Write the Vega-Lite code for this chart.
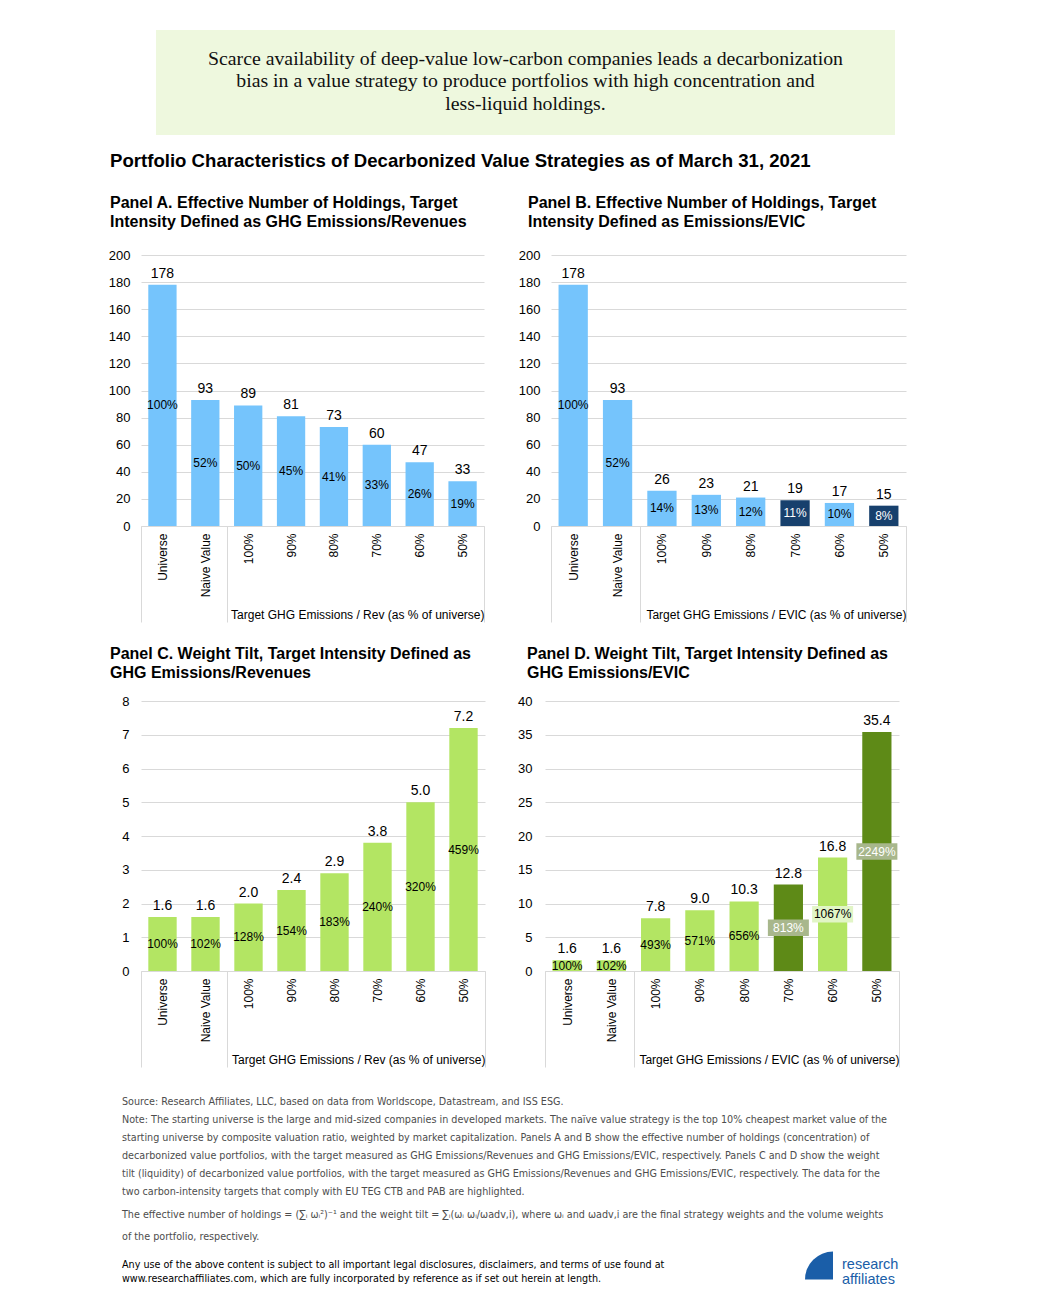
{
  "$schema": "https://vega.github.io/schema/vega-lite/v6.json",
  "background": "white",
  "padding": {"left": 108, "top": 30, "right": 5, "bottom": 5},
  "config": {
    "view": {"stroke": null},
    "font": "Liberation Sans",
    "title": {"anchor": "start", "color": "#000000", "fontWeight": "bold", "font": "Liberation Sans"},
    "axis": {"labelFont": "Liberation Sans", "titleFont": "Liberation Sans", "labelColor": "#000000", "titleColor": "#000000"}
  },
  "spacing": 17,
  "vconcat": [
    {
      "spacing": 14,
      "hconcat": [
        {"width": 1, "height": 105, "data": {"values": []}, "mark": "point"},
        {
          "width": 739, "height": 105,
          "view": {"fill": "#eef8de", "stroke": null},
          "data": {"values": [{"t": "Scarce availability of deep-value low-carbon companies leads a decarbonization\nbias in a value strategy to produce portfolios with high concentration and\nless-liquid holdings."}]},
          "mark": {"type": "text", "lineBreak": "\n", "font": "Liberation Serif", "fontSize": 19.8, "lineHeight": 22.5, "color": "#111111", "align": "center", "baseline": "middle", "dy": -24},
          "encoding": {"text": {"field": "t", "type": "nominal"}}
        }
      ]
    },
    {
      "spacing": 28,
      "vconcat": [
        {
          "title": {"text": "Portfolio Characteristics of Decarbonized Value Strategies as of March 31, 2021", "fontSize": 18.6, "frame": "bounds", "dx": 2, "offset": 24},
          "spacing": 23,
          "vconcat": [
            {
              "spacing": 33,
              "hconcat": [
                {
                  "width": 343, "height": 271,
                  "title": {"text": ["Panel A. Effective Number of Holdings, Target", "Intensity Defined as GHG Emissions/Revenues"], "fontSize": 16, "lineHeight": 19, "frame": "group", "dx": -31, "offset": 19},
                  "data": {"values": [
                    {"cat": "Universe", "value": 178, "pct": 1.00, "hl": false},
                    {"cat": "Naive Value", "value": 93, "pct": 0.52, "hl": false},
                    {"cat": "100%", "value": 89, "pct": 0.50, "hl": false},
                    {"cat": "90%", "value": 81, "pct": 0.45, "hl": false},
                    {"cat": "80%", "value": 73, "pct": 0.41, "hl": false},
                    {"cat": "70%", "value": 60, "pct": 0.33, "hl": false},
                    {"cat": "60%", "value": 47, "pct": 0.26, "hl": false},
                    {"cat": "50%", "value": 33, "pct": 0.19, "hl": false}
                  ]},
                  "encoding": {
                    "x": {"field": "cat", "type": "nominal", "sort": null, "scale": {"paddingInner": 0, "paddingOuter": 0},
                      "axis": {"title": "Target GHG Emissions / Rev (as % of universe)", "labelAngle": 270, "labelFontSize": 12, "labelPadding": -89, "labelColor": "#000000", "domainColor": "#d9d9d9", "tickBand": "extent", "tickSize": 96, "tickColor": {"condition": {"test": "!datum.value || datum.value === 'Naive Value' || datum.value === '50%'", "value": "#d9d9d9"}, "value": "rgba(0,0,0,0)"}, "titleFontSize": 12, "titleFontWeight": "normal", "titleAnchor": "end", "titleAlign": "right", "titleBaseline": "alphabetic", "titleY": 92}}
                  },
                  "layer": [
                    {"mark": {"type": "bar", "width": {"band": 0.66}},
                     "encoding": {
                       "y": {"field": "value", "type": "quantitative", "scale": {"domain": [0, 200], "nice": false},
                         "axis": {"values": [0, 20, 40, 60, 80, 100, 120, 140, 160, 180, 200], "title": null, "domain": false, "ticks": false, "labelPadding": 11, "labelFontSize": 13, "gridColor": "#d9d9d9", "minExtent": 33, "labelOverlap": false}},
                       "color": {"condition": {"test": "datum.hl", "value": "#17406d"}, "value": "#75c4fc"}}},
                    {"mark": {"type": "text", "baseline": "bottom", "dy": -4, "fontSize": 14, "color": "#000000"},
                     "encoding": {"y": {"field": "value", "type": "quantitative",
                         "axis": {"values": [0, 20, 40, 60, 80, 100, 120, 140, 160, 180, 200], "title": null, "domain": false, "ticks": false, "labelPadding": 11, "labelFontSize": 13, "gridColor": "#d9d9d9", "minExtent": 33, "labelOverlap": false}},
                       "text": {"field": "value", "type": "quantitative", "format": ".0f"}}},
                    {"mark": {"type": "text", "baseline": "middle", "fontSize": 12},
                     "encoding": {"y": {"field": "value", "type": "quantitative", "stack": "zero", "bandPosition": 0.5,
                         "axis": {"values": [0, 20, 40, 60, 80, 100, 120, 140, 160, 180, 200], "title": null, "domain": false, "ticks": false, "labelPadding": 11, "labelFontSize": 13, "gridColor": "#d9d9d9", "minExtent": 33, "labelOverlap": false}},
                       "text": {"field": "pct", "type": "quantitative", "format": ".0%"},
                       "color": {"condition": {"test": "datum.hl", "value": "#ffffff"}, "value": "#000000"}}}
                  ]
                },
                {
                  "width": 355, "height": 271,
                  "title": {"text": ["Panel B. Effective Number of Holdings, Target", "Intensity Defined as Emissions/EVIC"], "fontSize": 16, "lineHeight": 19, "frame": "group", "dx": -23, "offset": 19},
                  "data": {"values": [
                    {"cat": "Universe", "value": 178, "pct": 1.00, "hl": false},
                    {"cat": "Naive Value", "value": 93, "pct": 0.52, "hl": false},
                    {"cat": "100%", "value": 26, "pct": 0.14, "hl": false},
                    {"cat": "90%", "value": 23, "pct": 0.13, "hl": false},
                    {"cat": "80%", "value": 21, "pct": 0.12, "hl": false},
                    {"cat": "70%", "value": 19, "pct": 0.11, "hl": true},
                    {"cat": "60%", "value": 17, "pct": 0.10, "hl": false},
                    {"cat": "50%", "value": 15, "pct": 0.08, "hl": true}
                  ]},
                  "encoding": {
                    "x": {"field": "cat", "type": "nominal", "sort": null, "scale": {"paddingInner": 0, "paddingOuter": 0},
                      "axis": {"title": "Target GHG Emissions / EVIC (as % of universe)", "labelAngle": 270, "labelFontSize": 12, "labelPadding": -89, "labelColor": "#000000", "domainColor": "#d9d9d9", "tickBand": "extent", "tickSize": 96, "tickColor": {"condition": {"test": "!datum.value || datum.value === 'Naive Value' || datum.value === '50%'", "value": "#d9d9d9"}, "value": "rgba(0,0,0,0)"}, "titleFontSize": 12, "titleFontWeight": "normal", "titleAnchor": "end", "titleAlign": "right", "titleBaseline": "alphabetic", "titleY": 92}}
                  },
                  "layer": [
                    {"mark": {"type": "bar", "width": {"band": 0.66}},
                     "encoding": {
                       "y": {"field": "value", "type": "quantitative", "scale": {"domain": [0, 200], "nice": false},
                         "axis": {"values": [0, 20, 40, 60, 80, 100, 120, 140, 160, 180, 200], "title": null, "domain": false, "ticks": false, "labelPadding": 11, "labelFontSize": 13, "gridColor": "#d9d9d9", "minExtent": 33, "labelOverlap": false}},
                       "color": {"condition": {"test": "datum.hl", "value": "#17406d"}, "value": "#75c4fc"}}},
                    {"mark": {"type": "text", "baseline": "bottom", "dy": -4, "fontSize": 14, "color": "#000000"},
                     "encoding": {"y": {"field": "value", "type": "quantitative",
                         "axis": {"values": [0, 20, 40, 60, 80, 100, 120, 140, 160, 180, 200], "title": null, "domain": false, "ticks": false, "labelPadding": 11, "labelFontSize": 13, "gridColor": "#d9d9d9", "minExtent": 33, "labelOverlap": false}},
                       "text": {"field": "value", "type": "quantitative", "format": ".0f"}}},
                    {"mark": {"type": "text", "baseline": "middle", "fontSize": 12},
                     "encoding": {"y": {"field": "value", "type": "quantitative", "stack": "zero", "bandPosition": 0.5,
                         "axis": {"values": [0, 20, 40, 60, 80, 100, 120, 140, 160, 180, 200], "title": null, "domain": false, "ticks": false, "labelPadding": 11, "labelFontSize": 13, "gridColor": "#d9d9d9", "minExtent": 33, "labelOverlap": false}},
                       "text": {"field": "pct", "type": "quantitative", "format": ".0%"},
                       "color": {"condition": {"test": "datum.hl", "value": "#ffffff"}, "value": "#000000"}}}
                  ]
                }
              ]
            },
            {
              "spacing": 31,
              "hconcat": [
                {
                  "width": 344, "height": 270,
                  "title": {"text": ["Panel C. Weight Tilt, Target Intensity Defined as", "GHG Emissions/Revenues"], "fontSize": 16, "lineHeight": 19, "frame": "group", "dx": -31, "offset": 14},
                  "data": {"values": [
                    {"cat": "Universe", "value": 1.6, "pct": 1.00, "hl": false},
                    {"cat": "Naive Value", "value": 1.6, "pct": 1.02, "hl": false},
                    {"cat": "100%", "value": 2.0, "pct": 1.28, "hl": false},
                    {"cat": "90%", "value": 2.4, "pct": 1.54, "hl": false},
                    {"cat": "80%", "value": 2.9, "pct": 1.83, "hl": false},
                    {"cat": "70%", "value": 3.8, "pct": 2.40, "hl": false},
                    {"cat": "60%", "value": 5.0, "pct": 3.20, "hl": false},
                    {"cat": "50%", "value": 7.2, "pct": 4.59, "hl": false}
                  ]},
                  "encoding": {
                    "x": {"field": "cat", "type": "nominal", "sort": null, "scale": {"paddingInner": 0, "paddingOuter": 0},
                      "axis": {"title": "Target GHG Emissions / Rev (as % of universe)", "labelAngle": 270, "labelFontSize": 12, "labelPadding": -89, "labelColor": "#000000", "domainColor": "#d9d9d9", "tickBand": "extent", "tickSize": 96, "tickColor": {"condition": {"test": "!datum.value || datum.value === 'Naive Value' || datum.value === '50%'", "value": "#d9d9d9"}, "value": "rgba(0,0,0,0)"}, "titleFontSize": 12, "titleFontWeight": "normal", "titleAnchor": "end", "titleAlign": "right", "titleBaseline": "alphabetic", "titleY": 92}}
                  },
                  "layer": [
                    {"mark": {"type": "bar", "width": {"band": 0.66}},
                     "encoding": {
                       "y": {"field": "value", "type": "quantitative", "scale": {"domain": [0, 8], "nice": false},
                         "axis": {"values": [0, 1, 2, 3, 4, 5, 6, 7, 8], "title": null, "domain": false, "ticks": false, "labelPadding": 12, "labelFontSize": 13, "gridColor": "#d9d9d9", "minExtent": 33, "labelOverlap": false}},
                       "color": {"condition": {"test": "datum.hl", "value": "#5e8a17"}, "value": "#b3e563"}}},
                    {"mark": {"type": "text", "baseline": "bottom", "dy": -4, "fontSize": 14, "color": "#000000"},
                     "encoding": {"y": {"field": "value", "type": "quantitative",
                         "axis": {"values": [0, 1, 2, 3, 4, 5, 6, 7, 8], "title": null, "domain": false, "ticks": false, "labelPadding": 12, "labelFontSize": 13, "gridColor": "#d9d9d9", "minExtent": 33, "labelOverlap": false}},
                       "text": {"field": "value", "type": "quantitative", "format": ".1f"}}},
                    {"mark": {"type": "text", "baseline": "middle", "fontSize": 12},
                     "encoding": {"y": {"field": "value", "type": "quantitative", "stack": "zero", "bandPosition": 0.5,
                         "axis": {"values": [0, 1, 2, 3, 4, 5, 6, 7, 8], "title": null, "domain": false, "ticks": false, "labelPadding": 12, "labelFontSize": 13, "gridColor": "#d9d9d9", "minExtent": 33, "labelOverlap": false}},
                       "text": {"field": "pct", "type": "quantitative", "format": ".0%"},
                       "color": {"condition": {"test": "datum.hl", "value": "#ffffff"}, "value": "#000000"}}}
                  ]
                },
                {
                  "width": 354, "height": 270,
                  "title": {"text": ["Panel D. Weight Tilt, Target Intensity Defined as", "GHG Emissions/EVIC"], "fontSize": 16, "lineHeight": 19, "frame": "group", "dx": -18, "offset": 14},
                  "data": {"values": [
                    {"cat": "Universe", "value": 1.6, "pct": 1.00, "hl": false},
                    {"cat": "Naive Value", "value": 1.6, "pct": 1.02, "hl": false},
                    {"cat": "100%", "value": 7.8, "pct": 4.93, "hl": false},
                    {"cat": "90%", "value": 9.0, "pct": 5.71, "hl": false},
                    {"cat": "80%", "value": 10.3, "pct": 6.56, "hl": false},
                    {"cat": "70%", "value": 12.8, "pct": 8.13, "hl": true},
                    {"cat": "60%", "value": 16.8, "pct": 10.67, "hl": false},
                    {"cat": "50%", "value": 35.4, "pct": 22.49, "hl": true}
                  ]},
                  "encoding": {
                    "x": {"field": "cat", "type": "nominal", "sort": null, "scale": {"paddingInner": 0, "paddingOuter": 0},
                      "axis": {"title": "Target GHG Emissions / EVIC (as % of universe)", "labelAngle": 270, "labelFontSize": 12, "labelPadding": -89, "labelColor": "#000000", "domainColor": "#d9d9d9", "tickBand": "extent", "tickSize": 96, "tickColor": {"condition": {"test": "!datum.value || datum.value === 'Naive Value' || datum.value === '50%'", "value": "#d9d9d9"}, "value": "rgba(0,0,0,0)"}, "titleFontSize": 12, "titleFontWeight": "normal", "titleAnchor": "end", "titleAlign": "right", "titleBaseline": "alphabetic", "titleY": 92}}
                  },
                  "layer": [
                    {"mark": {"type": "bar", "width": {"band": 0.66}},
                     "encoding": {
                       "y": {"field": "value", "type": "quantitative", "scale": {"domain": [0, 40], "nice": false},
                         "axis": {"values": [0, 5, 10, 15, 20, 25, 30, 35, 40], "title": null, "domain": false, "ticks": false, "labelPadding": 13, "labelFontSize": 13, "gridColor": "#d9d9d9", "minExtent": 20, "labelOverlap": false}},
                       "color": {"condition": {"test": "datum.hl", "value": "#5e8a17"}, "value": "#b3e563"}}},
                    {"transform": [{"filter": "datum.cat === '70%' || datum.cat === '60%' || datum.cat === '50%'"}],
                     "mark": {"type": "point", "shape": "M-1,-0.4H1V0.4H-1Z", "size": 1681, "filled": true, "opacity": 1, "strokeWidth": 0},
                     "encoding": {"y": {"field": "value", "type": "quantitative", "stack": "zero", "bandPosition": 0.5,
                         "axis": {"values": [0, 5, 10, 15, 20, 25, 30, 35, 40], "title": null, "domain": false, "ticks": false, "labelPadding": 13, "labelFontSize": 13, "gridColor": "#d9d9d9", "minExtent": 20, "labelOverlap": false}},
                       "color": {"condition": {"test": "datum.hl", "value": "#a8b78c"}, "value": "#e1f5c6"}}},
                    {"mark": {"type": "text", "baseline": "bottom", "dy": -4, "fontSize": 14, "color": "#000000"},
                     "encoding": {"y": {"field": "value", "type": "quantitative",
                         "axis": {"values": [0, 5, 10, 15, 20, 25, 30, 35, 40], "title": null, "domain": false, "ticks": false, "labelPadding": 13, "labelFontSize": 13, "gridColor": "#d9d9d9", "minExtent": 20, "labelOverlap": false}},
                       "text": {"field": "value", "type": "quantitative", "format": ".1f"}}},
                    {"mark": {"type": "text", "baseline": "middle", "fontSize": 12},
                     "encoding": {"y": {"field": "value", "type": "quantitative", "stack": "zero", "bandPosition": 0.5,
                         "axis": {"values": [0, 5, 10, 15, 20, 25, 30, 35, 40], "title": null, "domain": false, "ticks": false, "labelPadding": 13, "labelFontSize": 13, "gridColor": "#d9d9d9", "minExtent": 20, "labelOverlap": false}},
                       "text": {"field": "pct", "type": "quantitative", "format": ".0%"},
                       "color": {"condition": {"test": "datum.hl", "value": "#ffffff"}, "value": "#000000"}}}
                  ]
                }
              ]
            }
          ]
        },
        {
          "title": {
            "text": [
              "Source: Research Affiliates, LLC, based on data from Worldscope, Datastream, and ISS ESG.",
              "Note: The starting universe is the large and mid-sized companies in developed markets. The naïve value strategy is the top 10% cheapest market value of the",
              "starting universe by composite valuation ratio, weighted by market capitalization. Panels A and B show the effective number of holdings (concentration) of",
              "decarbonized value portfolios, with the target measured as GHG Emissions/Revenues and GHG Emissions/EVIC, respectively. Panels C and D show the weight",
              "tilt (liquidity) of decarbonized value portfolios, with the target measured as GHG Emissions/Revenues and GHG Emissions/EVIC, respectively. The data for the",
              "two carbon-intensity targets that comply with EU TEG CTB and PAB are highlighted."
            ],
            "subtitle": [
              "The effective number of holdings = (∑ᵢ ωᵢ²)⁻¹ and the weight tilt = ∑ᵢ(ωᵢ ωᵢ/ωadv,i), where ωᵢ and ωadv,i are the final strategy weights and the volume weights",
              "of the portfolio, respectively."
            ],
            "font": "'Liberation Sans Narrow', 'DejaVu Sans Condensed', sans-serif",
            "subtitleFont": "'Liberation Sans Narrow', 'DejaVu Sans Condensed', sans-serif",
            "fontSize": 10.7, "subtitleFontSize": 10.7, "fontWeight": "normal",
            "color": "#4d4d4d", "subtitleColor": "#4d4d4d",
            "lineHeight": 18, "subtitleLineHeight": 22, "subtitlePadding": 12,
            "frame": "group", "dx": -19, "offset": 9
          },
          "spacing": 12,
          "hconcat": [
            {
              "width": 647, "height": 1,
              "title": {"text": ["Any use of the above content is subject to all important legal disclosures, disclaimers, and terms of use found at", "www.researchaffiliates.com, which are fully incorporated by reference as if set out herein at length."],
                "font": "'Liberation Sans Narrow', 'DejaVu Sans Condensed', sans-serif", "fontSize": 10.7, "fontWeight": "normal", "color": "#000000", "lineHeight": 14, "frame": "group", "dx": -19, "offset": 0},
              "data": {"values": []},
              "mark": "point"
            },
            {
              "width": 110, "height": 1,
              "data": {"values": [{"l": ["research", "affiliates"]}]},
              "layer": [
                {"mark": {"type": "arc", "theta": 4.7124, "theta2": 6.2832, "radius": 28, "color": "#1a5ea8", "xOffset": -22, "yOffset": -6}, "encoding": {}},
                {"mark": {"type": "text", "align": "left", "baseline": "middle", "fontSize": 14.5, "lineHeight": 15, "color": "#1a5ea8", "dx": -13, "dy": -21}, "encoding": {"text": {"field": "l", "type": "nominal"}}}
              ]
            }
          ]
        }
      ]
    }
  ]
}
